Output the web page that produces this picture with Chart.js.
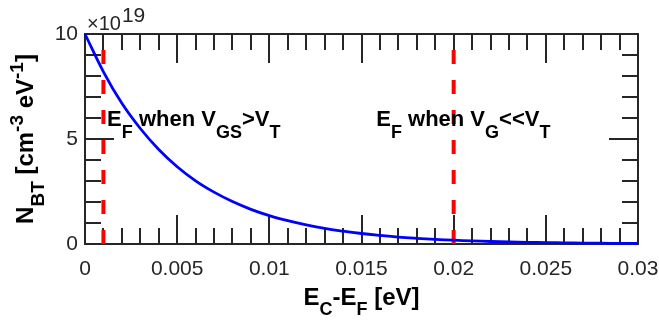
<!DOCTYPE html>
<html>
<head>
<meta charset="utf-8">
<script src="https://cdn.jsdelivr.net/npm/chart.js@4.4.1/dist/chart.umd.min.js"></script>
<style>
  html, body { margin: 0; padding: 0; background: #fff; }
</style>
</head>
<body>
<canvas id="myChart" width="659" height="322"></canvas>
<script>
// E_C - E_F [eV]
const energia = [0, 0.001, 0.002, 0.003, 0.004, 0.005, 0.006, 0.007, 0.008, 0.009, 0.010,
    0.011, 0.012, 0.013, 0.014, 0.015, 0.016, 0.017, 0.018, 0.019, 0.020,
    0.021, 0.022, 0.023, 0.024, 0.025, 0.026, 0.027, 0.028, 0.029, 0.030];
// N_BT en unidades de 1e19 cm^-3 eV^-1
const nbt = [10, 8.2, 6.7, 5.5, 4.5, 3.68, 3.01, 2.47, 2.02, 1.65, 1.35,
    1.11, 0.91, 0.74, 0.61, 0.5, 0.41, 0.33, 0.27, 0.22, 0.18,
    0.15, 0.12, 0.1, 0.08, 0.067, 0.055, 0.045, 0.037, 0.03, 0.025];
// posiciones de E_F (lineas rojas)
const marcasEF = [0.001, 0.02];
const rangoY = [0, 10];
const xTickLabels = ['0', '0.005', '0.01', '0.015', '0.02', '0.025', '0.03'];
const yTickLabels = ['0', '5', '10'];

const gris = '#262626';
const fuenteTxt = (tam, bold) => `${bold ? 'bold ' : ''}${tam}px "Liberation Sans", Arial, sans-serif`;

const esMayorX = v => Math.round(v * 1000) % 5 === 0;
const esMayorY = v => Math.round(v) % 5 === 0;

// texto con subindices / superindices
function textoRico(ctx, partes, x, y, tam, tamSub, bajada, subida, centrado) {
    let ancho = 0;
    partes.forEach(([t, tipo]) => {
        ctx.font = fuenteTxt(tipo === 'n' ? tam : tamSub, true);
        ancho += ctx.measureText(t).width;
    });
    let cx = centrado ? x - ancho / 2 : x;
    partes.forEach(([t, tipo]) => {
        ctx.font = fuenteTxt(tipo === 'n' ? tam : tamSub, true);
        const dy = tipo === 'sub' ? bajada : (tipo === 'sup' ? -subida : 0);
        ctx.fillText(t, cx, y + dy);
        cx += ctx.measureText(t).width;
    });
}

const ejesMatlab = {
    id: 'ejesMatlab',
    beforeDatasetsDraw(chart) {
        const { ctx, chartArea: a, scales: { x, y } } = chart;
        ctx.save();
        ctx.strokeStyle = gris;
        ctx.lineWidth = 2;
        ctx.beginPath();
        x.ticks.forEach(t => {
            const px = Math.round(x.getPixelForValue(t.value));
            const largo = esMayorX(t.value) ? 29 : 16;
            ctx.moveTo(px, a.bottom); ctx.lineTo(px, a.bottom - largo);
            ctx.moveTo(px, a.top); ctx.lineTo(px, a.top + largo);
        });
        y.ticks.forEach(t => {
            const py = Math.round(y.getPixelForValue(t.value));
            const largo = esMayorY(t.value) ? 29 : 16;
            ctx.moveTo(a.left, py); ctx.lineTo(a.left + largo, py);
            ctx.moveTo(a.right, py); ctx.lineTo(a.right - largo, py);
        });
        ctx.stroke();
        ctx.strokeRect(a.left, a.top, a.right - a.left, a.bottom - a.top);
        ctx.restore();
    },
    afterDatasetsDraw(chart) {
        const { ctx, chartArea: a, scales: { x, y } } = chart;
        ctx.save();
        ctx.fillStyle = '#000';
        ctx.textBaseline = 'alphabetic';

        // anotaciones
        textoRico(ctx, [['E', 'n'], ['F', 'sub'], [' when V', 'n'], ['GS', 'sub'], ['>V', 'n'], ['T', 'sub']],
            x.getPixelForValue(0.0012), y.getPixelForValue(5.6), 22, 18, 12, 0, false);
        textoRico(ctx, [['E', 'n'], ['F', 'sub'], [' when V', 'n'], ['G', 'sub'], ['<<V', 'n'], ['T', 'sub']],
            x.getPixelForValue(0.0158), y.getPixelForValue(5.6), 22, 18, 12, 0, false);

        // titulos de ejes
        textoRico(ctx, [['E', 'n'], ['C', 'sub'], ['-E', 'n'], ['F', 'sub'], [' [eV]', 'n']],
            (a.left + a.right) / 2, 305, 24, 18, 10, 0, true);

        ctx.save();
        ctx.translate(33, (a.top + a.bottom) / 2);
        ctx.rotate(-Math.PI / 2);
        textoRico(ctx, [['N', 'n'], ['BT', 'sub'], [' [cm', 'n'], ['-3', 'sup'], [' eV', 'n'], ['-1', 'sup'], [']', 'n']],
            0, 0, 24, 19, 11, 10, true);
        ctx.restore();

        // exponente
        ctx.fillStyle = gris;
        ctx.font = fuenteTxt(20, false);
        ctx.fillText('\u00d710', a.left + 2, a.top - 4);
        const w = ctx.measureText('\u00d710').width;
        ctx.font = fuenteTxt(21, false);
        ctx.fillText('19', a.left + 3 + w, a.top - 12);
        ctx.restore();
    }
};

const ctx = document.getElementById('myChart').getContext('2d');

const lineasEF = marcasEF.map(e => ({
    data: rangoY.map(v => ({ x: e, y: v })),
    showLine: true,
    borderColor: '#ff0000',
    borderWidth: 4,
    borderDash: [14, 16],
    pointRadius: 0,
    clip: 0
}));

const myChart = new Chart(ctx, {
    type: 'scatter',
    data: {
        datasets: [{
            data: energia.map((e, i) => ({ x: e, y: nbt[i] })),
            showLine: true,
            borderColor: '#0000ff',
            borderWidth: 2.8,
            tension: 0.4,
            pointRadius: 0,
            clip: 2
        }, ...lineasEF]
    },
    options: {
        responsive: false,
        animation: false,
        devicePixelRatio: 1,
        layout: { padding: { left: 0, right: 21, top: 34, bottom: 0 } },
        plugins: { legend: { display: false }, tooltip: { enabled: false } },
        scales: {
            x: {
                type: 'linear',
                min: 0,
                max: 0.03,
                grid: { display: false, drawTicks: false },
                border: { display: false },
                ticks: {
                    stepSize: 0.001,
                    autoSkip: false,
                    maxRotation: 0,
                    padding: 13,
                    color: gris,
                    font: { family: '"Liberation Sans", Arial, sans-serif', size: 21 },
                    callback: v => esMayorX(v) ? xTickLabels[Math.round(v * 200)] : ''
                },
                afterFit: s => { s.height = 78; s.paddingLeft = 0; s.paddingRight = 0; }
            },
            y: {
                min: rangoY[0],
                max: rangoY[1],
                grid: { display: false, drawTicks: false },
                border: { display: false },
                ticks: {
                    stepSize: 1,
                    autoSkip: false,
                    padding: 7,
                    color: gris,
                    font: { family: '"Liberation Sans", Arial, sans-serif', size: 21 },
                    callback: v => esMayorY(v) ? yTickLabels[Math.round(v / 5)] : ''
                },
                afterFit: s => { s.width = 85; s.paddingTop = 0; s.paddingBottom = 0; }
            }
        }
    },
    plugins: [ejesMatlab]
});
</script>
</body>
</html>
